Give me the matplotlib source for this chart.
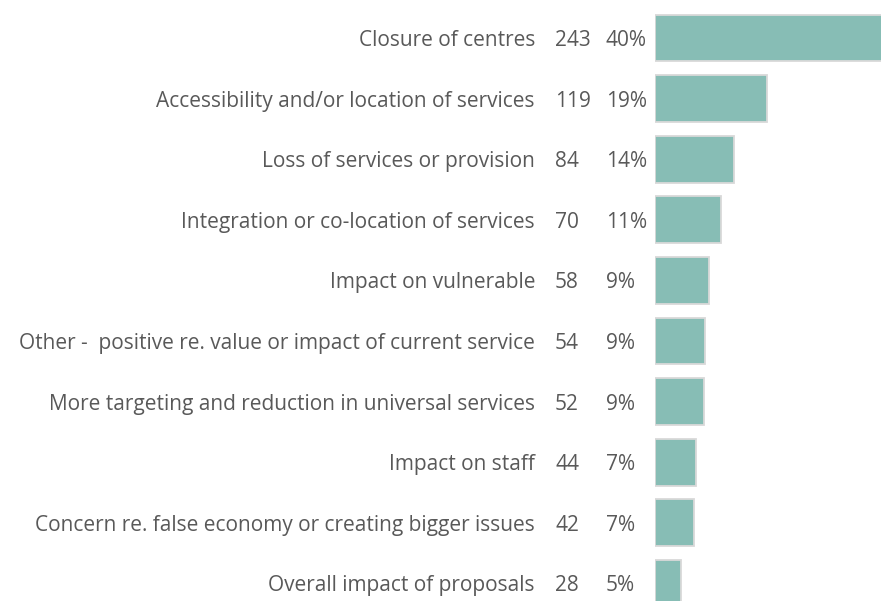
import matplotlib
matplotlib.use("Agg")
import matplotlib.pyplot as plt
from matplotlib.transforms import blended_transform_factory

categories = [
    "Closure of centres",
    "Accessibility and/or location of services",
    "Loss of services or provision",
    "Integration or co-location of services",
    "Impact on vulnerable",
    "Other -  positive re. value or impact of current service",
    "More targeting and reduction in universal services",
    "Impact on staff",
    "Concern re. false economy or creating bigger issues",
    "Overall impact of proposals",
]
counts = [243, 119, 84, 70, 58, 54, 52, 44, 42, 28]
percents = ["40%", "19%", "14%", "11%", "9%", "9%", "9%", "7%", "7%", "5%"]

W, H = 881, 601
fig = plt.figure(figsize=(W / 100, H / 100), dpi=100)
ax_left = 654.5 / W
ax = fig.add_axes([ax_left, 0, 1 - ax_left, 1])
ax.set_axis_off()

ypos = list(range(len(categories)))
ax.barh(ypos, counts, height=0.77, left=0, color="#87BDB5",
        edgecolor="#D9D9D9", linewidth=1.3)
ax.set_xlim(0, 226.5 / 0.943)
ax.set_ylim(563 / 60.6, -38 / 60.6)

tr = blended_transform_factory(fig.transFigure, ax.transData)
txt_color = "#595959"
fs = 15
fam = ["Open Sans", "DejaVu Sans"]
dy = 8 / 60.6  # baseline offset below bar centre
for i, (c, n, p) in enumerate(zip(categories, counts, percents)):
    y = i + dy
    ax.text(535 / W, y, c, transform=tr, ha="right", va="baseline",
            fontsize=fs, color=txt_color, family=fam, clip_on=False)
    ax.text(555 / W, y, str(n), transform=tr, ha="left", va="baseline",
            fontsize=fs, color=txt_color, family=fam, clip_on=False)
    ax.text(606 / W, y, p, transform=tr, ha="left", va="baseline",
            fontsize=fs, color=txt_color, family=fam, clip_on=False)

fig.savefig("out.png", dpi=100)
